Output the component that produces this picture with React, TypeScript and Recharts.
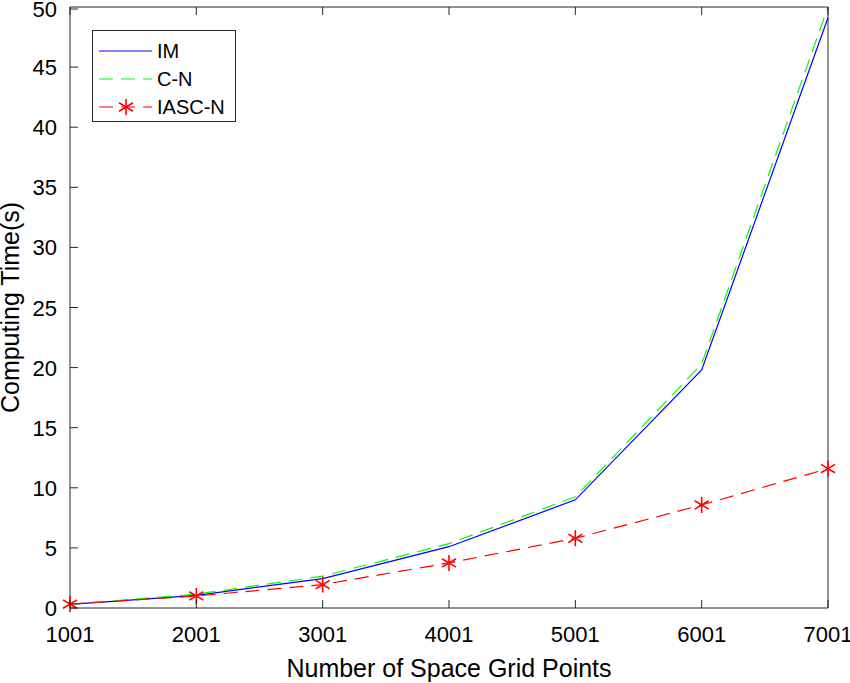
import { LineChart, Line, XAxis, YAxis, Legend } from "recharts";

const gridPoints = [1001, 2001, 3001, 4001, 5001, 6001, 7001];
const imTime = [0.3, 1.05, 2.45, 5.1, 9.0, 19.8, 49.1];
const cnTime = [0.3, 1.15, 2.65, 5.35, 9.25, 20.3, 50.0];
const iascnTime = [0.33, 1.0, 1.95, 3.75, 5.8, 8.57, 11.6];

const seriesOrder = ["IM", "C-N", "IASC-N"];
const xTicks = [1001, 2001, 3001, 4001, 5001, 6001, 7001];
const yTicks = [0, 5, 10, 15, 20, 25, 30, 35, 40, 45, 50];

const data = gridPoints.map((n, i) => ({
  n,
  im: imTime[i],
  cn: cnTime[i],
  iascn: iascnTime[i],
}));

const FONT = "'Liberation Sans', Arial, Helvetica, sans-serif";
const AXIS = "#262626";
const DASH = "14 8";

const Asterisk = (props: any) => {
  const { cx, cy } = props;
  if (cx == null || cy == null) return null;
  const r = 8;
  const dx = 7;
  const dy = 4.2;
  return (
    <g stroke="#ff0000" strokeWidth={1.6}>
      <line x1={cx} y1={cy - r} x2={cx} y2={cy + r} />
      <line x1={cx - dx} y1={cy - dy} x2={cx + dx} y2={cy + dy} />
      <line x1={cx - dx} y1={cy + dy} x2={cx + dx} y2={cy - dy} />
    </g>
  );
};

// ticks inside the box, matlab style
const BottomTick = ({ x, y, payload }: any) => (
  <g>
    <line x1={x} y1={y} x2={x} y2={y - 8} stroke={AXIS} />
    <text x={x} y={y + 34} textAnchor="middle" fill="#000" fontSize={22} fontFamily={FONT}>
      {payload.value}
    </text>
  </g>
);

const TopTick = ({ x, y }: any) => <line x1={x} y1={y} x2={x} y2={y + 8} stroke={AXIS} />;

const LeftTick = ({ x, y, payload }: any) => (
  <g>
    <line x1={x} y1={y} x2={x + 8} y2={y} stroke={AXIS} />
    <text x={x - 13} y={y + 8} textAnchor="end" fill="#000" fontSize={22} fontFamily={FONT}>
      {payload.value}
    </text>
  </g>
);

const RightTick = ({ x, y }: any) => <line x1={x} y1={y} x2={x - 8} y2={y} stroke={AXIS} />;

const YTitle = ({ viewBox }: any) => {
  const cy = viewBox.y + viewBox.height / 2;
  return (
    <text
      x={10}
      y={cy}
      transform={`rotate(-90, 10, ${cy})`}
      textAnchor="middle"
      dominantBaseline="central"
      fill="#000"
      fontSize={25}
      fontFamily={FONT}
    >
      Computing Time(s)
    </text>
  );
};

const LegendBox = ({ payload }: any) => {
  const items = [...(payload || [])].sort(
    (a: any, b: any) => seriesOrder.indexOf(a.value) - seriesOrder.indexOf(b.value)
  );
  return (
    <div
      style={{
        border: `1px solid ${AXIS}`,
        background: "#fff",
        width: 144,
        height: 92,
        boxSizing: "border-box",
        padding: "6px 0 0 6px",
        fontFamily: FONT,
        fontSize: 20,
        color: "#000",
        lineHeight: 1,
      }}
    >
      {items.map((p: any) => (
        <div key={p.value} style={{ display: "flex", alignItems: "center", height: 28 }}>
          <svg width={54} height={20} style={{ marginRight: 4 }}>
            <line
              x1={0}
              y1={10}
              x2={53}
              y2={10}
              stroke={p.color}
              strokeWidth={1.2}
              strokeDasharray={p.payload.strokeDasharray}
            />
            {p.value === "IASC-N" && <Asterisk cx={27} cy={10} />}
          </svg>
          <span>{p.value}</span>
        </div>
      ))}
    </div>
  );
};

export default function App() {
  return (
    <div style={{ position: "absolute", left: 0, top: 0, background: "#fff" }}>
      <LineChart
        width={850}
        height={683}
        data={data}
        margin={{ top: 6, right: 21, bottom: 0, left: 0 }}
        style={{ fontFamily: FONT }}
      >
        <XAxis
          dataKey="n"
          type="number"
          domain={[1001, 7001]}
          ticks={xTicks}
          height={75}
          stroke={AXIS}
          tickLine={false}
          tickSize={0}
          tickMargin={0}
          tick={<BottomTick />}
          label={{
            value: "Number of Space Grid Points",
            position: "insideBottom",
            offset: 6,
            fill: "#000",
            fontSize: 25,
          }}
        />
        <XAxis
          xAxisId="top"
          dataKey="n"
          type="number"
          domain={[1001, 7001]}
          ticks={xTicks}
          orientation="top"
          height={1}
          stroke={AXIS}
          tickLine={false}
          tickSize={0}
          tickMargin={0}
          tick={<TopTick />}
        />
        <YAxis
          type="number"
          domain={[0, 50]}
          ticks={yTicks}
          width={70}
          stroke={AXIS}
          tickLine={false}
          tickSize={0}
          tickMargin={0}
          tick={<LeftTick />}
          label={{ content: <YTitle /> }}
        />
        <YAxis
          yAxisId="right"
          type="number"
          domain={[0, 50]}
          ticks={yTicks}
          orientation="right"
          width={1}
          stroke={AXIS}
          tickLine={false}
          tickSize={0}
          tickMargin={0}
          tick={<RightTick />}
        />
        <Legend
          layout="horizontal"
          verticalAlign="middle"
          align="center"
          content={<LegendBox />}
          wrapperStyle={{ left: 92, top: 30, width: 144 }}
        />
        <Line
          name="IM"
          dataKey="im"
          stroke="#0000ff"
          strokeWidth={1.2}
          dot={false}
          isAnimationActive={false}
        />
        <Line
          name="C-N"
          dataKey="cn"
          stroke="#00ff00"
          strokeWidth={1.2}
          strokeDasharray={DASH}
          dot={false}
          isAnimationActive={false}
        />
        <Line
          name="IASC-N"
          dataKey="iascn"
          stroke="#ff0000"
          strokeWidth={1.2}
          strokeDasharray={DASH}
          dot={<Asterisk />}
          isAnimationActive={false}
        />
      </LineChart>
    </div>
  );
}
